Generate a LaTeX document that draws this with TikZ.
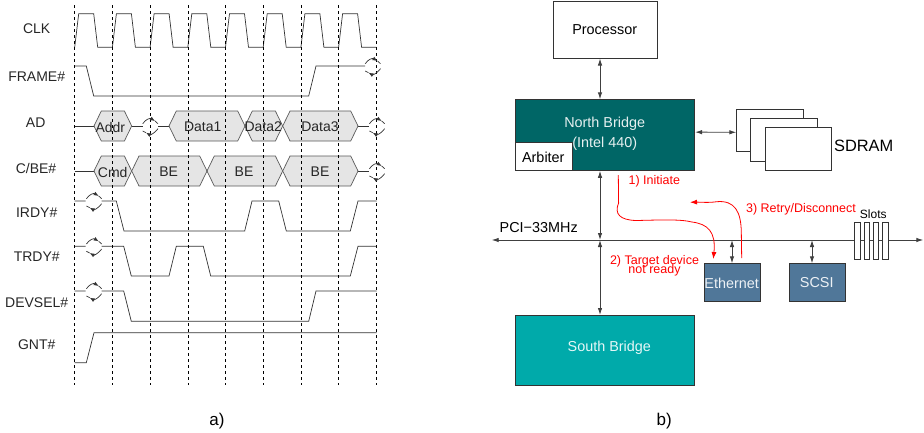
\documentclass[tikz,border=0pt]{standalone}
\usepackage{fontspec}
\setmainfont{Liberation Sans}
\usetikzlibrary{arrows.meta}

\definecolor{northteal}{HTML}{006666}
\definecolor{southteal}{HTML}{00AAAA}
\definecolor{devblue}{HTML}{507799}
\definecolor{hexgray}{HTML}{E5E5E5}

\newcommand{\hexbus}[3]{\filldraw[hexagon] (#1,#3) -- (#1+7.3,#3-15) -- (#2-7.3,#3-15) -- (#2,#3)
	-- (#2-7.3,#3+15) -- (#1+7.3,#3+15) -- cycle;}
\newcommand{\breakmark}[2]{
	\draw[wave,-{Latex[length=5pt,width=4pt]}] (#1-7.3,#2-2.3) .. controls (#1-4,#2-7) and (#1,#2-8) .. (#1+5,#2-5);
	\draw[wave] (#1+5,#2-5) -- (#1+8,#2-2.3);
	\draw[wave,-{Latex[length=5pt,width=4pt]}] (#1+8,#2+2.7) .. controls (#1+4,#2+8) and (#1,#2+9) .. (#1-4,#2+6.7);
	\draw[wave] (#1-4,#2+6.7) -- (#1-7.3,#2+5);
}

\begin{document}
\begin{tikzpicture}[x=1pt,y=-1pt,
		wave/.style={draw=black!80,line width=0.7pt},
		hexagon/.style={draw=black!65,fill=hexgray,line width=0.7pt},
		label text/.style={font=\fontsize{14}{16}\selectfont,text=black!85,inner sep=0pt,yshift=-1pt},
		box/.style={draw=black!80,line width=0.8pt,inner sep=0pt,anchor=north west},
		box text/.style={font=\fontsize{14.4}{16}\selectfont,inner sep=0pt,yshift=-1pt},
		biarrow/.style={{Latex[length=7pt,width=4.5pt]}-{Latex[length=7pt,width=4.5pt]},draw=black!75,line width=0.9pt},
		red note/.style={font=\fontsize{12.5}{14}\selectfont,text=red,inner sep=0pt,yshift=-1pt},
		red arrow/.style={draw=red,line width=0.8pt,-{Latex[length=7pt,width=5pt]}}]
	\useasboundingbox (0,0) rectangle (924,432);

	% signal names
	\node[label text] (clk) at (36.7,27.7) {CLK};
	\node[label text] (frame) at (36.7,76) {FRAME\#};
	\node[label text] (ad) at (35.7,121.7) {AD};
	\node[label text] (cbe) at (36,167) {C/BE\#};
	\node[label text] (irdy) at (36.7,211.7) {IRDY\#};
	\node[label text] (trdy) at (36.7,256) {TRDY\#};
	\node[label text] (devsel) at (36.7,301.7) {DEVSEL\#};
	\node[label text] (gnt) at (36.7,343.7) {GNT\#};
	\node[font=\fontsize{17}{19}\selectfont,inner sep=0pt] (capa) at (217,421) {a)};

	% clock
	\foreach \t in {74.7,112.4,150.1,187.8,225.5,263.2,300.9,338.6}
		\draw[wave] (\t,47.3) -- (\t+4,13.7) -- (\t+19,13.7) -- (\t+23,47.3) -- (\t+37.7,47.3);

	% control lines
	\draw[wave] (74.7,66) -- (86.3,66) -- (93.7,96) -- (308.7,96) -- (316,66) -- (365,66);
	\draw[wave] (74.7,201) -- (85.7,201) (101.7,201) -- (116.3,201) -- (124,231) -- (244.7,231)
		-- (252,201) -- (278.7,201) -- (286.3,231) -- (350.3,231) -- (358,201) -- (376.7,201);
	\draw[wave] (74.7,246.3) -- (85.7,246.3) (101.7,246.3) -- (123.7,246.3) -- (131.3,276) -- (169,276)
		-- (176.3,246.3) -- (203.3,246.3) -- (210.7,276) -- (350.3,276) -- (358,246.3) -- (376.7,246.3);
	\draw[wave] (74.7,291) -- (85.7,291) (101.7,291) -- (123.7,291) -- (131.3,321.3) -- (308.7,321.3)
		-- (316,291) -- (376.7,291);
	\draw[wave] (74.7,362.7) -- (86.3,362.7) -- (94,332.7) -- (376.7,332.7);

	% address and data
	\draw[wave] (74.7,126) -- (94,126) (131.7,126) -- (142.7,126) (158.3,126) -- (169,126) (358,126) -- (369,126);
	\draw[wave] (74.7,171) -- (94,171) (358,171) -- (369,171);
	\hexbus{94}{131.7}{126}
	\hexbus{169}{245}{126}
	\hexbus{245}{282.7}{126}
	\hexbus{282.7}{358}{126}
	\hexbus{94}{131.7}{171}
	\hexbus{131.7}{207}{171}
	\hexbus{207}{282.7}{171}
	\hexbus{282.7}{358}{171}

	% clock edges
	\foreach \t in {74.7,112.4,150.1,187.8,225.5,263.2,300.9,338.6,376.7}
		\draw[black,line width=0.6pt,dash pattern=on 3pt off 3pt] (\t,5) -- (\t,385);

	\node[label text] (addr) at (110.3,126) {Addr};
	\node[label text] (data1) at (202.7,126) {Data1};
	\node[label text] (data2) at (263.3,126) {Data2};
	\node[label text] (data3) at (320,126) {Data3};
	\node[label text] (cmd) at (112.7,171) {Cmd};
	\node[label text] (be1) at (168.7,171) {BE};
	\node[label text] (be2) at (244,171) {BE};
	\node[label text] (be3) at (320,171) {BE};

	\breakmark{372.5}{66}
	\breakmark{150}{126}
	\breakmark{376.7}{126}
	\breakmark{376.7}{171}
	\breakmark{93.7}{201}
	\breakmark{93.7}{246.3}
	\breakmark{93.7}{291}

	% bridges and memory
	\node[box,minimum width=104pt,minimum height=56.4pt] (processor) at (552.7,1.3) {};
	\node[box text] at (604.7,29) {Processor};
	\node[box,fill=northteal,minimum width=179pt,minimum height=70.7pt] (north) at (515.3,99.3) {};
	\node[box text,text=white!90!northteal] at (604.7,123) {North Bridge};
	\node[box text,text=white!90!northteal] at (604.7,142.7) {(Intel 440)};
	\node[box,fill=white,minimum width=56.4pt,minimum height=28pt] (arbiter) at (515.3,142) {};
	\node[box text] at (543.3,156) {Arbiter};
	\node[box,fill=white,minimum width=66.4pt,minimum height=42.6pt] (sdram1) at (736.3,108.7) {};
	\node[box,fill=white,minimum width=66.4pt,minimum height=42.7pt] (sdram2) at (750.3,118) {};
	\node[box,fill=white,minimum width=66.3pt,minimum height=42.7pt] (sdram3) at (764.7,127.3) {};
	\node[font=\fontsize{16.4}{18}\selectfont,inner sep=0pt,yshift=-1pt] (sdram) at (863.7,145.3) {SDRAM};
	\node[box,fill=southteal,minimum width=179pt,minimum height=70pt] (south) at (515.3,315) {};
	\node[box text,text=white!90!southteal] at (609.3,346.7) {South Bridge};
	\node[box,fill=devblue,minimum width=56pt,minimum height=37.4pt] (ethernet) at (704.3,263.3) {};
	\node[box text,text=white!90!devblue] at (731.7,282) {Ethernet};
	\node[box,fill=devblue,minimum width=55.7pt,minimum height=37.4pt] (scsi) at (789.3,263.3) {};
	\node[box text,text=white!90!devblue] at (816.7,282) {SCSI};
	\node[font=\fontsize{17}{19}\selectfont,inner sep=0pt] (capb) at (664.3,421) {b)};

	% bus
	\coordinate (busleft) at (491.7,240);
	\coordinate (busright) at (923.3,240);
	\coordinate (tap) at (600,240);
	\coordinate (etap) at (732,240);
	\coordinate (stap) at (812,240);
	\node[box text] (pci) at (538.7,226.3) {PCI−33MHz};
	\draw[biarrow] (busleft) -- (busright);
	\foreach \s [count=\i] in {854.3,863.7,873,882.3}
		\node[box,fill=white,minimum width=5.4pt,minimum height=37.3pt] (slot\i) at (\s,221.7) {};
	\node[font=\fontsize{12}{14}\selectfont,inner sep=0pt,yshift=-1pt] (slots) at (873.3,213) {Slots};

	\draw[biarrow] (tap |- processor.south) -- (tap |- north.north);
	\draw[biarrow] (north.east) ++(0,-2.9) -- (sdram1.west |- 0,132.3);
	\draw[biarrow] (tap |- north.south) -- (tap);
	\draw[biarrow] (tap) -- (tap |- south.north);
	\draw[biarrow] (etap) -- (etap |- ethernet.north);
	\draw[biarrow] (stap) -- (stap |- scsi.north);

	% red notes
	\node[red note] (initiate) at (654.3,180) {1) Initiate};
	\node[red note,align=center] (target) at (654.5,264.5) {2) Target device\\[-5pt]not ready};
	\node[red note] (retry) at (801,208.3) {3) Retry/Disconnect};
	\draw[red arrow] (618.3,175) -- (618.6,203) .. controls (614,214) and (620,220) .. (636,220.5)
		.. controls (660,220) and (680,219) .. (692,222) .. controls (708,224) and (716,232) .. (713.3,259);
	\draw[red arrow] (741.7,258) -- (741.3,232) .. controls (741,212) and (735,200) .. (716.7,201.7)
		.. controls (708,203) and (700,202) .. (690,202.3);
\end{tikzpicture}
\end{document}
